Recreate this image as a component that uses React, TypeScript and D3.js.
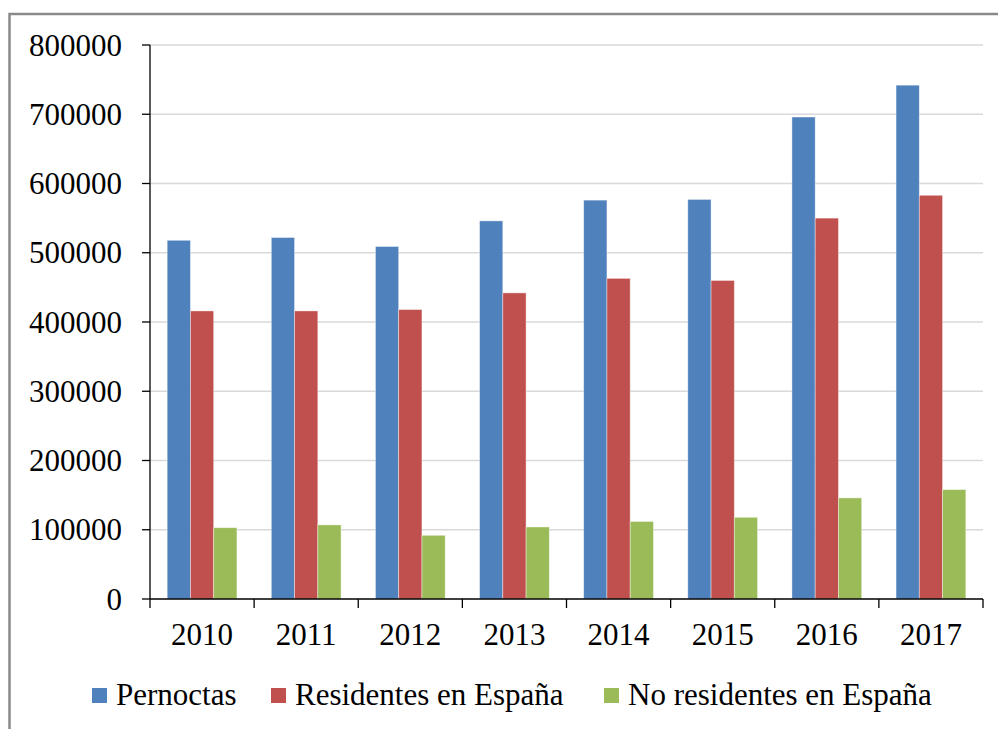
import * as d3 from "d3";

const years = ["2010", "2011", "2012", "2013", "2014", "2015", "2016", "2017"];
const pernoctas = [518000, 522000, 509000, 546000, 576000, 577000, 696000, 742000];
const residentes = [416000, 416000, 418000, 442000, 463000, 460000, 550000, 583000];
const noResidentes = [103000, 107000, 92000, 104000, 112000, 118000, 146000, 158000];
const seriesNames = ["Pernoctas", "Residentes en España", "No residentes en España"];
const yTicks = [0, 100000, 200000, 300000, 400000, 500000, 600000, 700000, 800000];

const colors = ["#4F81BD", "#C0504D", "#9BBB59"];
const legendX = [92, 271, 604];

const width = 998;
const height = 729;
const margin = { top: 45, right: 15, bottom: 130, left: 150 };
const font = "Liberation Serif";

const x0 = d3.scaleBand()
    .domain(years)
    .range([margin.left, width - margin.right])
    .paddingInner(0.33)
    .paddingOuter(0.165);

const x1 = d3.scaleBand()
    .domain(seriesNames)
    .range([0, x0.bandwidth()]);

const y = d3.scaleLinear()
    .domain([0, 800000])
    .range([height - margin.bottom, margin.top]);

const xBounds = d3.scaleLinear()
    .domain([0, years.length])
    .range([margin.left, width - margin.right]);

const textStyle = { fontFamily: font, fontSize: "31px" };

export default function App() {
    const all = [pernoctas, residentes, noResidentes];
    const y0 = y(0);
    return (
        <svg width={width} height={height} style={{ position: "absolute", left: 0, top: 0, background: "#fff" }}>
            {/* outer frame */}
            <rect x={9.5} y={14} width={1100} height={900} fill="none" stroke="#8a8a8a" strokeWidth={2.5} />

            {/* grid */}
            {yTicks.slice(1).map(t => (
                <line key={t} x1={margin.left} x2={width - margin.right} y1={y(t)} y2={y(t)} stroke="#d9d9d9" strokeWidth={1.3} />
            ))}

            {/* bars */}
            {all.map((vals, si) => (
                <g key={seriesNames[si]}>
                    {vals.map((v, i) => (
                        <rect
                            key={years[i]}
                            x={x0(years[i])! + x1(seriesNames[si])!}
                            y={y(v)}
                            width={x1.bandwidth()}
                            height={y0 - y(v)}
                            fill={colors[si]}
                            stroke="#ffffff"
                            strokeOpacity={0.5}
                            strokeWidth={0.8}
                        />
                    ))}
                </g>
            ))}

            {/* y axis */}
            <line x1={margin.left} x2={margin.left} y1={y(800000)} y2={y0} stroke="#000" strokeWidth={1.3} />
            {yTicks.map(t => (
                <g key={t}>
                    <line x1={margin.left - 8} x2={margin.left} y1={y(t)} y2={y(t)} stroke="#000" strokeWidth={1.3} />
                    <text x={margin.left - 28} y={y(t)} dy="0.34em" textAnchor="end" fill="#000" style={textStyle}>
                        {String(t)}
                    </text>
                </g>
            ))}

            {/* x axis */}
            <line x1={margin.left} x2={width - margin.right} y1={y0} y2={y0} stroke="#000" strokeWidth={1.3} />
            {d3.range(years.length + 1).map(i => (
                <line key={i} x1={xBounds(i)} x2={xBounds(i)} y1={y0} y2={y0 + 9} stroke="#000" strokeWidth={1.3} />
            ))}
            {years.map(yr => (
                <text key={yr} x={x0(yr)! + x0.bandwidth() / 2} y={y0 + 46} textAnchor="middle" fill="#000" style={textStyle}>
                    {yr}
                </text>
            ))}

            {/* legend */}
            {seriesNames.map((name, i) => (
                <g key={name}>
                    <rect x={legendX[i]} y={688} width={15} height={15} fill={colors[i]} />
                    <text x={legendX[i] + 24} y={705} fill="#000" style={textStyle}>{name}</text>
                </g>
            ))}
        </svg>
    );
}
